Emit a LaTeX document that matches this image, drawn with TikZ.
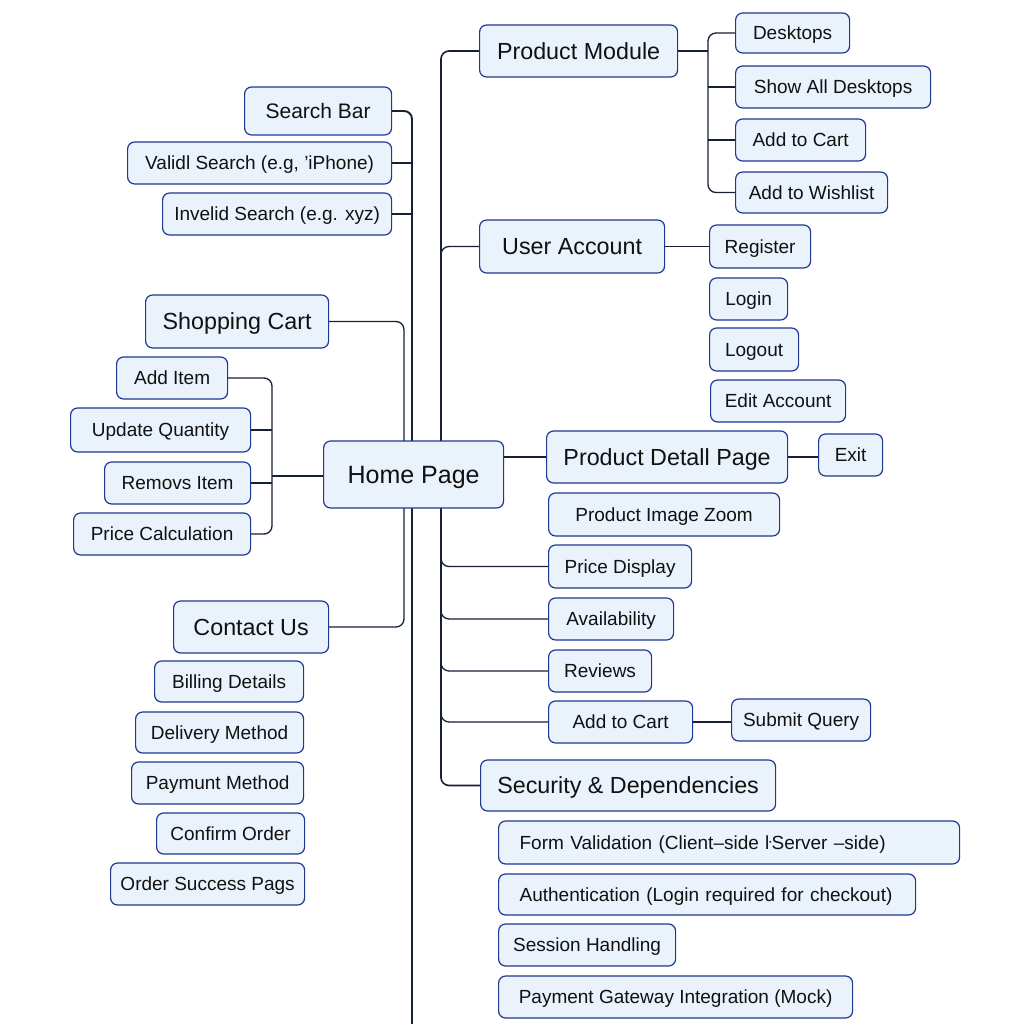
\documentclass[tikz,border=0pt]{standalone}
\usepackage{fontspec}
\setmainfont{Liberation Sans}
\usetikzlibrary{calc,positioning}
\pgfdeclarelayer{bg}
\pgfsetlayers{bg,main}

\definecolor{boxfill}{RGB}{234,242,251}
\definecolor{boxline}{RGB}{30,55,145}
\definecolor{linkcol}{RGB}{22,32,52}
\definecolor{txtcol}{RGB}{17,17,17}

\tikzset{
  box/.style={draw=boxline, fill=boxfill, line width=1.2pt, rounded corners=7pt,
    text=txtcol, anchor=west, inner xsep=6pt, inner ysep=0pt,
    text height=14pt, text depth=0.4pt,
    minimum width=#1, font=\fontsize{19}{22}\selectfont},
  sub/.style={box=#1, font=\fontsize{21}{24}\selectfont, text height=15.4pt},
  head/.style={box=#1, font=\fontsize{23.3}{26}\selectfont, text height=17pt},
  link/.style={draw=linkcol, line width=1.3pt, rounded corners=8pt},
  trunk/.style={link, line width=1.9pt}
}

\begin{document}
\begin{tikzpicture}[x=1pt,y=-1pt]
  \useasboundingbox (0,0) rectangle (1024,1024);
  % left side
  \node[sub=147, minimum height=48] (search) at (244,111) {Search Bar};
  \node[box=264, minimum height=42] (valid) at (127,163) {Validl Search (e.g, 'iPhone)};
  \node[box=229, minimum height=42] (invalid) at (162,214) {Invelid Search (e.g. xyz)};
  \node[head=183, minimum height=53] (cart) at (145,321.5) {Shopping Cart};
  \node[box=111, minimum height=42] (additem) at (116,378) {Add Item};
  \node[box=180, minimum height=44] (update) at (70,430) {Update Quantity};
  \node[box=146, minimum height=42] (removs) at (104,483) {Removs Item};
  \node[box=177, minimum height=42] (pricecalc) at (73,534) {Price Calculation};
  \node[box=180, minimum height=67, font=\fontsize{25}{28}\selectfont, text height=18.4pt] (home) at (323,474.5) {Home Page};
  \node[head=155, minimum height=52] (contact) at (173,627) {Contact Us};
  \node[box=149, minimum height=41] (billing) at (154,681.5) {Billing Details};
  \node[box=168, minimum height=41] (delivery) at (135,732.5) {Delivery Method};
  \node[box=172, minimum height=42] (paymunt) at (131,783) {Paymunt Method};
  \node[box=148, minimum height=41] (confirm) at (156,833.5) {Confirm Order};
  \node[box=194, minimum height=42] (success) at (110,884) {Order Success Pags};
  % right side
  \node[head=198, minimum height=52] (prodmod) at (479,51) {Product Module};
  \node[box=114, minimum height=40] (desktops) at (735,33) {Desktops};
  \node[box=195, minimum height=42] (showall) at (735,87) {Show All Desktops};
  \node[box=130, minimum height=42] (addcarta) at (735,140) {Add to Cart};
  \node[box=152, minimum height=41] (wishlist) at (735,192.5) {Add to Wishlist};
  \node[head=185, minimum height=53] (useracc) at (479,246.5) {User Account};
  \node[box=101, minimum height=43] (register) at (709,246.5) {Register};
  \node[box=78, minimum height=42] (login) at (709,299) {Login};
  \node[box=89, minimum height=43] (logout) at (709,349.5) {Logout};
  \node[box=135, minimum height=42] (editacc) at (710,401) {Edit Account};
  \node[head=241, minimum height=52] (detail) at (546,457) {Product Detall Page};
  \node[box=64, minimum height=42] (exit) at (818,455) {Exit};
  \node[box=231, minimum height=43] (zoomimg) at (548,514.5) {Product Image Zoom};
  \node[box=143, minimum height=43] (pricedisp) at (548,566.5) {Price Display};
  \node[box=125, minimum height=42] (avail) at (548,619) {Availability};
  \node[box=103, minimum height=42] (reviews) at (548,671) {Reviews};
  \node[box=144, minimum height=42] (addcartb) at (548,722) {Add to Cart};
  \node[box=139, minimum height=42] (submit) at (731,720) {Submit Query};
  \node[head=295, minimum height=51] (security) at (480,785.5) {Security \& Dependencies};
  \node[box=461, minimum height=43, text width=437, align=left] (formval) at (498,842.5) {\hspace*{9pt}Form Validation (Client–side ŀServer –side)};
  \node[box=417, minimum height=41, text width=393, align=left] (auth) at (498,894.5) {\hspace*{9pt}Authentication (Login required for checkout)};
  \node[box=177, minimum height=42] (session) at (498,945) {Session Handling};
  \node[box=354, minimum height=42] (payment) at (498,997) {Payment Gateway Integration (Mock)};

  \coordinate (searchend) at (412,1024);
  \coordinate (rt) at (441,0);
  \coordinate (cl) at (404,500);
  \coordinate (ci) at (272,450);
  \coordinate (pm) at (708,100);

  \begin{pgfonlayer}{bg}
    % search trunk
    \draw[trunk] (search.east) -| (searchend);
    \draw[link] (valid.east) -- (valid.east -| searchend);
    \draw[link] (invalid.east) -- (invalid.east -| searchend);
    % cart loop
    \draw[link] (cart.east) -| (cl) |- (contact.east);
    \draw[link] (additem.east) -| (ci) |- (pricecalc.east);
    \draw[link] (update.east) -- (update.east -| ci);
    \draw[link] (removs.east) -- (removs.east -| ci);
    \draw[link] (home.west |- 0,476) -- (ci |- 0,476);
    % right trunk
    \draw[trunk, line width=1.6pt] (prodmod.west) -| (rt |- security.west) -- (security.west);
    \draw[link] (useracc.west) -| ($(useracc.west -| rt)+(0,14)$);
    \foreach \n in {pricedisp,avail,reviews,addcartb}
      \draw[link] (\n.west) -| ($(\n.west -| rt)+(0,-14)$);
    % product module
    \draw[link] (prodmod.east) -- (prodmod.east -| pm);
    \draw[link] (desktops.west) -| (pm) |- (wishlist.west);
    \draw[link] (showall.west) -- (showall.west -| pm);
    \draw[link] (addcarta.west) -- (addcarta.west -| pm);
    % single links
    \draw[link] (useracc.east) -- (useracc.east -| register.west);
    \draw[link] (detail.west -| home.east) -- (detail.west);
    \draw[link] (detail.east) -- (detail.east -| exit.west);
    \draw[link] (addcartb.east) -- (addcartb.east -| submit.west);
  \end{pgfonlayer}
\end{tikzpicture}
\end{document}
